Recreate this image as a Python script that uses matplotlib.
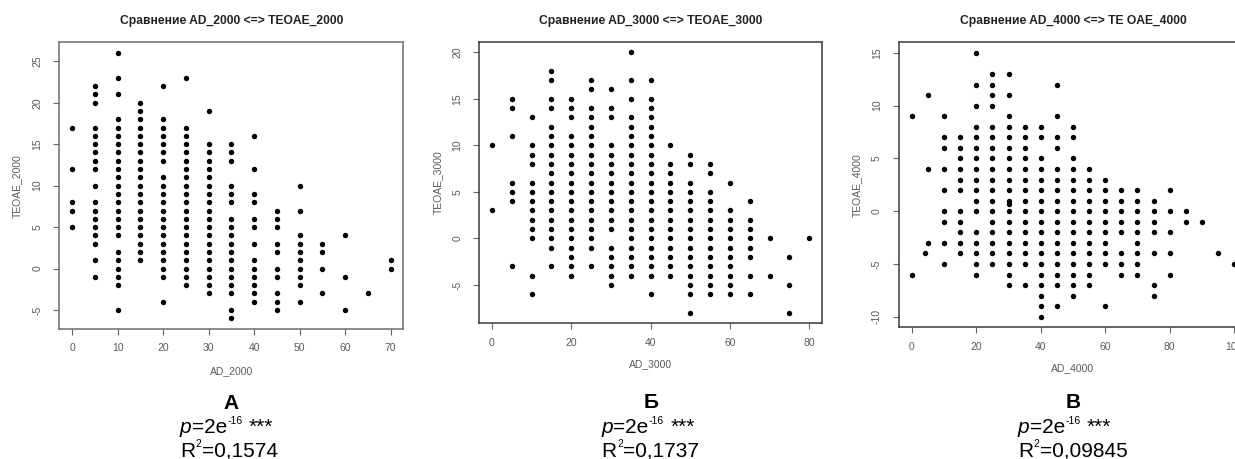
import matplotlib
matplotlib.use("Agg")
import matplotlib.pyplot as plt
from matplotlib.text import Annotation
import numpy as np

plt.rcParams["font.family"] = ["Liberation Sans", "DejaVu Sans"]
plt.rcParams["axes.unicode_minus"] = False

# --- А: AD_2000 vs TEOAE_2000 ---
ad_2000 = [0, 5, 10, 15, 20, 25, 30, 35, 40, 45, 50, 55, 60, 65, 70]
teoae_2000 = [
    [17, 12, 8, 7, 5],
    [22, 21, 20, 17, 16, 15, 14, 13, 12, 10, 8, 7, 6, 5, 4, 3, 1, -1],
    [26, 23, 21, 18, 17, 16, 15, 14, 13, 12, 11, 10, 9, 8, 7, 6, 5, 4, 2, 1, 0, -1, -2, -5],
    [20, 19, 18, 17, 16, 15, 14, 13, 12, 11, 10, 9, 8, 7, 6, 5, 4, 3, 2, 1],
    [22, 18, 17, 16, 15, 14, 13, 11, 10, 9, 8, 7, 6, 5, 4, 3, 2, 1, 0, -1, -4],
    [23, 17, 16, 15, 14, 13, 12, 11, 10, 9, 8, 7, 6, 5, 4, 3, 2, 1, 0, -1, -2],
    [19, 15, 14, 13, 12, 11, 10, 9, 8, 7, 6, 5, 4, 3, 2, 1, 0, -1, -2, -3],
    [15, 14, 13, 10, 9, 8, 6, 5, 4, 3, 2, 1, 0, -1, -2, -3, -5, -6],
    [16, 12, 9, 8, 6, 5, 3, 1, 0, -1, -2, -3, -4],
    [7, 6, 5, 3, 2, 0, -1, -3, -4, -5],
    [10, 7, 4, 3, 2, 1, 0, -1, -2, -4],
    [3, 2, 0, -3],
    [4, -1, -5],
    [-3],
    [1, 0],
]

# --- Б: AD_3000 vs TEOAE_3000 ---
ad_3000 = [0, 5, 10, 15, 20, 25, 30, 35, 40, 45, 50, 55, 60, 65, 70, 75, 80]
teoae_3000 = [
    [10, 3],
    [15, 14, 11, 6, 5, 4, -3],
    [13, 10, 9, 8, 6, 5, 4, 3, 2, 1, 0, -4, -6],
    [18, 17, 15, 14, 12, 11, 10, 9, 8, 7, 6, 5, 4, 3, 2, 1, 0, -1, -3],
    [15, 14, 13, 11, 10, 9, 8, 7, 6, 5, 4, 3, 2, 1, 0, -1, -2, -3, -4],
    [17, 16, 14, 13, 12, 11, 10, 9, 8, 7, 6, 5, 4, 3, 2, 1, 0, -1, -3],
    [16, 14, 13, 10, 9, 8, 7, 6, 5, 4, 3, 2, 1, -1, -2, -3, -4, -5],
    [20, 17, 15, 13, 12, 11, 10, 9, 8, 7, 6, 5, 4, 3, 2, 1, 0, -1, -2, -3, -4],
    [17, 15, 14, 13, 12, 11, 10, 9, 8, 7, 6, 5, 4, 3, 2, 1, 0, -1, -2, -3, -4, -6],
    [10, 8, 7, 6, 5, 4, 3, 2, 1, 0, -1, -2, -3, -4],
    [9, 8, 6, 5, 4, 3, 2, 1, 0, -1, -2, -3, -4, -5, -6, -8],
    [8, 7, 5, 4, 3, 2, 1, 0, -1, -2, -3, -4, -5, -6],
    [6, 3, 2, 1, 0, -1, -2, -3, -4, -5, -6],
    [4, 2, 1, 0, -1, -2, -4, -6],
    [0, -4],
    [-2, -5, -8],
    [0],
]

# --- В: AD_4000 vs TEOAE_4000 ---
ad_4000 = [0, 4, 5, 10, 15, 20, 25, 30, 35, 40, 45, 50, 55, 60, 65, 70, 75, 80, 85, 90, 95, 100]
teoae_4000 = [
    [9, -6],
    [-4],
    [11, 4, -3],
    [9, 7, 6, 4, 2, 0, -1, -3, -5],
    [7, 6, 5, 4, 3, 2, 0, -1, -2, -3, -4],
    [15, 12, 10, 8, 7, 6, 5, 4, 3, 2, 1, 0, -2, -3, -4, -5, -6],
    [13, 12, 11, 10, 8, 7, 6, 5, 4, 3, 2, 1, 0, -1, -2, -3, -4, -5],
    [13, 11, 9, 8, 7, 6, 5, 4, 3, 2, 1, 0.7, 0, -1, -2, -3, -4, -5, -6, -7],
    [8, 7, 6, 5, 4, 3, 2, 1, 0, -1, -2, -3, -4, -5, -7],
    [8, 7, 5, 4, 3, 2, 1, 0, -1, -2, -3, -4, -5, -6, -7, -8, -9, -10],
    [12, 9, 7, 6, 4, 3, 2, 1, 0, -1, -2, -3, -4, -5, -6, -7, -9],
    [8, 7, 5, 4, 3, 2, 1, 0, -1, -2, -3, -4, -5, -6, -7, -8],
    [4, 3, 2, 1, 0, -1, -2, -3, -4, -5, -6, -7],
    [3, 2, 1, 0, -1, -2, -3, -4, -5, -9],
    [2, 1, 0, -1, -2, -4, -5, -6],
    [2, 1, 0, -1, -2, -3, -4, -5, -6],
    [1, 0, -1, -2, -4, -7, -8],
    [2, 0, -2, -4, -6],
    [0, -1],
    [-1],
    [-4],
    [-5],
]

titles = ["Сравнение AD_2000 <=> TEOAE_2000",
          "Сравнение AD_3000 <=> TEOAE_3000",
          "Сравнение AD_4000 <=> TE OAE_4000"]
x_labels = ["AD_2000", "AD_3000", "AD_4000"]
y_labels = ["TEOAE_2000", "TEOAE_3000", "TEOAE_4000"]
letters = ["А", "Б", "В"]
p_value = "-16"
r2_values = ["0,1574", "0,1737", "0,09845"]


def expand(xs, cols):
    x = np.concatenate([[a] * len(c) for a, c in zip(xs, cols)])
    y = np.concatenate(cols)
    return x, y


def chain_text(fig, x0, y0, pieces):
    """Текст из кусков на одной базовой линии (для мелких верхних индексов)."""
    prev = fig.text(x0, y0, pieces[0][0], fontsize=pieces[0][1],
                    style=pieces[0][2], ha="left", va="baseline")
    for text, size, style, gap, rise in pieces[1:]:
        ann = Annotation(text, xy=(1, y0), xycoords=(prev, "figure fraction"),
                         xytext=(gap, rise), textcoords="offset points",
                         fontsize=size, style=style, ha="left", va="baseline")
        fig.add_artist(ann)
        prev = ann


W, H = 1235, 459
fig = plt.figure(figsize=(W / 100, H / 100), dpi=100)

# box edges in pixels: left, top, right, bottom
boxes = [(59.3, 42.3, 403.3, 329.0),
         (479.3, 41.7, 822.0, 323.3),
         (899.0, 42.3, 1247.0, 327.3)]
xlims = [(-2.8, 72.8), (-3.2, 83.2), (-4, 104)]
ylims = [(-7.28, 27.28), (-9.12, 21.12), (-11, 16)]
xticks = [np.arange(0, 71, 10), np.arange(0, 81, 20), np.arange(0, 101, 20)]
yticks = [np.arange(-5, 26, 5), np.arange(-5, 21, 5), np.arange(-10, 16, 5)]
frame_colors = ["#6e6e6e", "#3a3a3a", "#3a3a3a"]
xlabel_y = [-0.1465, -0.1445, -0.143]
letter_base = [409.3, 408.3, 408.3]
line_start = [180, 601.5, 1018]
data = [(ad_2000, teoae_2000), (ad_3000, teoae_3000), (ad_4000, teoae_4000)]

for i, (xs, cols) in enumerate(data):
    l, t, r, b = boxes[i]
    ax = fig.add_axes([l / W, 1 - b / H, (r - l) / W, (b - t) / H])
    x, y = expand(xs, cols)
    ax.plot(x, y, "o", ms=3.9, color="black", mew=0)
    ax.set_xlim(*xlims[i])
    ax.set_ylim(*ylims[i])
    ax.set_xticks(xticks[i])
    ax.set_yticks(yticks[i])
    for s in ax.spines.values():
        s.set_color(frame_colors[i])
        s.set_linewidth(1.1)
    ax.tick_params(direction="out", length=4.3, width=0.8, color="#666666",
                   labelsize=7.5, labelcolor="#5a5a5a")
    ax.tick_params(axis="x", pad=6)
    ax.tick_params(axis="y", pad=8, labelrotation=90)
    for lab in ax.get_yticklabels():
        lab.set_va("center")
    ax.set_title(titles[i], fontsize=8.7, fontweight="bold", color="#222222", pad=13)
    ax.set_xlabel(x_labels[i], fontsize=7.5, color="#5a5a5a", va="center")
    ax.xaxis.set_label_coords(0.5, xlabel_y[i])
    ax.set_ylabel(y_labels[i], fontsize=7.5, color="#5a5a5a", va="center")
    ax.yaxis.set_label_coords(-0.122, 0.5)

    cx = (l + r) / 2
    fig.text(cx / W, 1 - letter_base[i] / H, letters[i], fontsize=15,
             fontweight="bold", ha="center", va="baseline")
    x0 = line_start[i] / W
    chain_text(fig, x0, 1 - 433.3 / H, [
        ("p", 15, "italic"),
        ("=2e", 15, "normal", 0, 0),
        (p_value, 7.5, "normal", 0.3, 7),
        ("***", 15, "normal", 4.5, 0),
    ])
    chain_text(fig, x0, 1 - 456.8 / H, [
        ("R", 15, "normal"),
        ("2", 7.5, "normal", 0.3, 7),
        ("=" + r2_values[i], 15, "normal", 0.2, 0),
    ])

fig.savefig("out.png", dpi=100)
